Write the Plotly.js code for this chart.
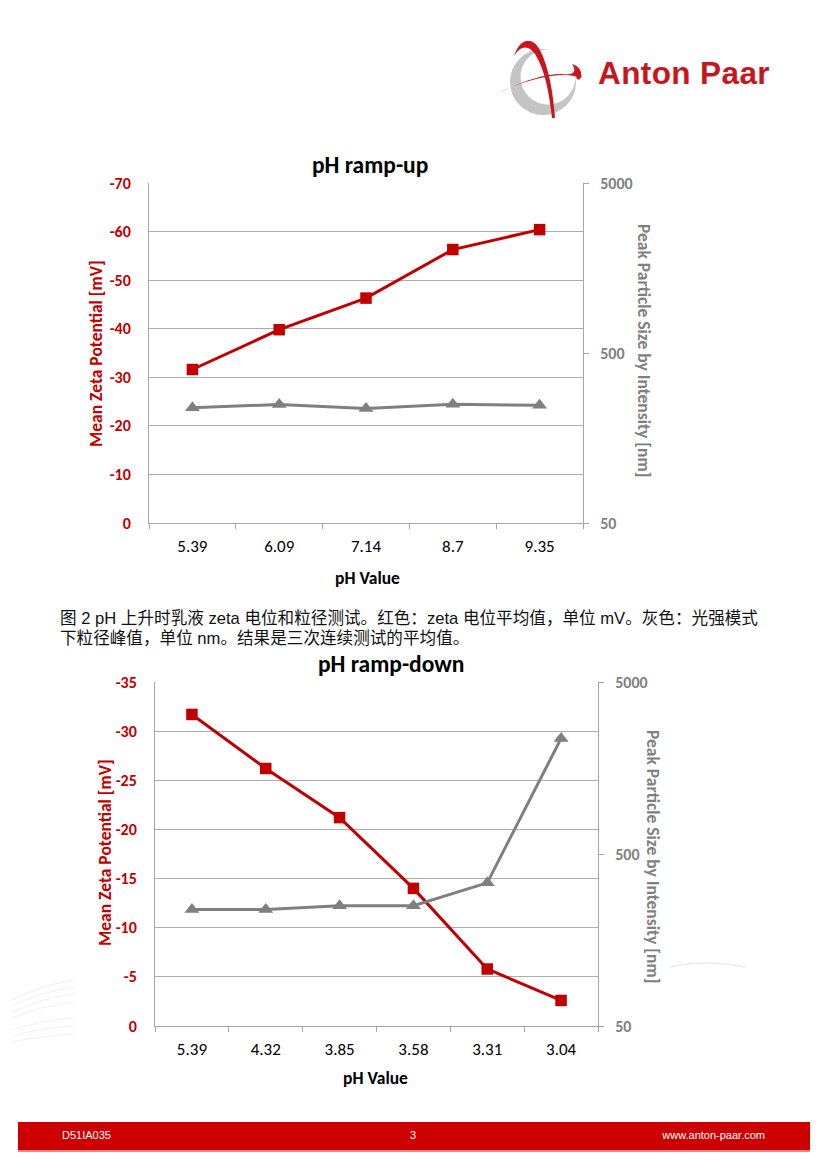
<!DOCTYPE html>
<html><head><meta charset="utf-8">
<script src="https://cdn.plot.ly/plotly-3.0.1.min.js"></script>
<style>
html,body{margin:0;padding:0;background:#fff;}
#page{position:relative;width:827px;height:1169px;overflow:hidden;background:#fff;}
#chart{position:absolute;left:0;top:0;width:827px;height:1169px;}
#logo{position:absolute;left:490px;top:30px;width:300px;height:100px;}
#logotext{position:absolute;left:598px;top:55px;font-family:"Liberation Sans",Arial,sans-serif;font-weight:bold;font-size:31.5px;color:#c8161d;letter-spacing:0.4px;white-space:nowrap;}
#caption{position:absolute;left:60px;top:609px;font-family:"Liberation Sans","Noto Sans CJK SC",sans-serif;font-size:16.6px;line-height:20px;color:#111;white-space:nowrap;}
#footer{position:absolute;left:18px;top:1122px;width:792px;height:28px;background:#cc0000;border-bottom:2px solid #e88;}
#footer span{position:absolute;top:7px;font-family:"Liberation Sans",Arial,sans-serif;font-size:11px;color:#fff;white-space:nowrap;}
</style></head><body>
<div id="page">
<div id="chart"></div>
<svg id="logo" viewBox="490 30 300 100" xmlns="http://www.w3.org/2000/svg">
  <circle cx="543" cy="82" r="33" fill="#c4c4c4"/>
  <circle cx="548" cy="77" r="27.5" fill="#fff"/>
  <path d="M514 56 C520 38, 532 36, 540 50 C549 68, 553 92, 555 118 L552 118 C549 92, 545 70, 535 54 C528 44, 520 46, 514 56 Z" fill="#c8161d"/>
  <path d="M498 93 C525 80, 560 71, 577 77 C585 81, 582 72, 572 64 C577 72, 574 75, 562 74 C540 74, 518 84, 498 93 Z" fill="#c8161d"/>
  <path d="M572 64 C580 66, 584 74, 579 80 L576 78 C580 74, 578 69, 572 64 Z" fill="#c8161d"/>
</svg>
<div id="logotext">Anton Paar</div>
<svg style="position:absolute;left:0;top:940px;width:100px;height:120px" viewBox="0 0 100 120">
  <g fill="none" stroke="#f0f0f0" stroke-width="1">
    <path d="M12 60 Q40 45 75 40"/><path d="M12 66 Q40 52 75 47"/><path d="M12 72 Q40 58 75 54"/>
    <path d="M12 78 Q40 66 75 62"/><path d="M12 90 Q40 80 75 78"/><path d="M12 96 Q40 88 75 86"/>
    <path d="M12 102 Q40 96 75 94"/>
  </g>
</svg>
<svg style="position:absolute;left:660px;top:955px;width:100px;height:20px" viewBox="0 0 100 20">
  <path d="M10 12 Q45 4 85 12" fill="none" stroke="#ebebeb" stroke-width="1.5"/>
</svg>
<div id="caption">图 2 pH 上升时乳液 zeta 电位和粒径测试。红色：zeta 电位平均值，单位 mV。灰色：光强模式<br>下粒径峰值，单位 nm。结果是三次连续测试的平均值。</div>
<div id="footer"><span style="left:44px">D51IA035</span><span style="left:392px">3</span><span style="right:45px">www.anton-paar.com</span></div>
</div>
<script>
// ---- data ----
const upPH = ['5.39', '6.09', '7.14', '8.7', '9.35'];
const upZeta = [-31.6, -39.8, -46.3, -56.3, -60.4];
const upSize = [238, 249, 236, 250, 246];

const downPH = ['5.39', '4.32', '3.85', '3.58', '3.31', '3.04'];
const downZeta = [-31.7, -26.2, -21.2, -14.0, -5.8, -2.6];
const downSize = [238, 238, 250, 250, 340, 2350];

const upZetaTicks = [0, -10, -20, -30, -40, -50, -60, -70];
const upZetaLabels = ['0', '-10', '-20', '-30', '-40', '-50', '-60', '-70'];
const downZetaTicks = [0, -5, -10, -15, -20, -25, -30, -35];
const downZetaLabels = ['0', '-5', '-10', '-15', '-20', '-25', '-30', '-35'];
const sizeTicks = [50, 500, 5000];
const sizeLabels = ['50', '500', '5000'];

// ---- styling ----
const W = 827, H = 1169;
const px = x => x / W;
const py = y => 1 - y / H;
const F = 'Carlito, Lato, "Open Sans", sans-serif';
const RED = '#c00000', GRAY = '#7f7f7f', AX = '#a6a6a6', GRID = '#adadad';

const traces = [
  {x: upPH, y: upZeta, xaxis: 'x', yaxis: 'y', mode: 'lines+markers',
   line: {color: RED, width: 3}, marker: {symbol: 'square', size: 11.5, color: RED}},
  {x: upPH, y: upSize, xaxis: 'x', yaxis: 'y2', mode: 'lines+markers',
   line: {color: GRAY, width: 3}, marker: {symbol: 'triangle-up', size: 13, color: GRAY}},
  {x: downPH, y: downZeta, xaxis: 'x2', yaxis: 'y3', mode: 'lines+markers',
   line: {color: RED, width: 3}, marker: {symbol: 'square', size: 11.5, color: RED}},
  {x: downPH, y: downSize, xaxis: 'x2', yaxis: 'y4', mode: 'lines+markers',
   line: {color: GRAY, width: 3}, marker: {symbol: 'triangle-up', size: 13, color: GRAY}}
];

function xAxis(d, anchor, cats) {
  return {domain: d, anchor: anchor, type: 'category', categoryarray: cats, categoryorder: 'array',
    range: [-0.5, cats.length - 0.5], showline: true, linecolor: AX, linewidth: 1,
    ticks: 'outside', tickson: 'boundaries', ticklen: 5, tickcolor: AX, showgrid: false,
    tickfont: {family: F, size: 17, color: '#000'}, ticklabelstandoff: 8, fixedrange: true};
}
function zAxis(d, anchor, rng, tv, tt) {
  return {domain: d, anchor: anchor, range: rng, tickmode: 'array', tickvals: tv, ticktext: tt,
    showline: true, linecolor: AX, linewidth: 1, ticks: '', showgrid: true, gridcolor: GRID, gridwidth: 1,
    zeroline: false, tickfont: {family: F, size: 16, color: RED, weight: 'bold'},
    ticklabelstandoff: 14, fixedrange: true};
}
function sAxis(over, anchor) {
  return {overlaying: over, anchor: anchor, side: 'right', type: 'log',
    range: [Math.log10(50), Math.log10(5000)], tickmode: 'array', tickvals: sizeTicks, ticktext: sizeLabels,
    showline: true, linecolor: AX, linewidth: 1, ticks: 'outside', ticklen: 5, tickcolor: AX,
    showgrid: false, zeroline: false, tickfont: {family: F, size: 16, color: GRAY, weight: 'bold'},
    ticklabelstandoff: 8, fixedrange: true};
}

function ann(text, x, y, opts) {
  return Object.assign({text: text, x: px(x), y: py(y), xref: 'paper', yref: 'paper',
    xanchor: 'center', yanchor: 'middle', showarrow: false,
    font: {family: F, size: 17.5, color: '#000', weight: 'bold'}}, opts || {});
}

const layout = {
  width: W, height: H, margin: {l: 0, r: 0, t: 0, b: 0},
  paper_bgcolor: 'rgba(0,0,0,0)', plot_bgcolor: 'rgba(0,0,0,0)', showlegend: false,
  xaxis: xAxis([px(149), px(583)], 'y', upPH),
  yaxis: zAxis([py(523), py(183)], 'x', [0, -70], upZetaTicks, upZetaLabels),
  yaxis2: sAxis('y', 'x'),
  xaxis2: xAxis([px(155), px(598)], 'y3', downPH),
  yaxis3: zAxis([py(1026), py(682)], 'x2', [0, -35], downZetaTicks, downZetaLabels),
  yaxis4: sAxis('y3', 'x2'),
  annotations: [
    ann('pH ramp-up', 370, 165, {font: {family: F, size: 23.5, color: '#000', weight: 'bold'}}),
    ann('pH Value', 367, 578),
    ann('Mean Zeta Potential [mV]', 96, 354, {textangle: -90, font: {family: F, size: 17.5, color: RED, weight: 'bold'}}),
    ann('Peak Particle Size by Intensity [nm]', 644, 350, {textangle: 90, font: {family: F, size: 17.5, color: GRAY, weight: 'bold'}}),
    ann('pH ramp-down', 391, 664, {font: {family: F, size: 23.5, color: '#000', weight: 'bold'}}),
    ann('pH Value', 375, 1078),
    ann('Mean Zeta Potential [mV]', 105, 853, {textangle: -90, font: {family: F, size: 17.5, color: RED, weight: 'bold'}}),
    ann('Peak Particle Size by Intensity [nm]', 653, 856, {textangle: 90, font: {family: F, size: 17.5, color: GRAY, weight: 'bold'}})
  ]
};

Plotly.newPlot('chart', traces, layout, {staticPlot: true, displayModeBar: false});
</script>
</body></html>
